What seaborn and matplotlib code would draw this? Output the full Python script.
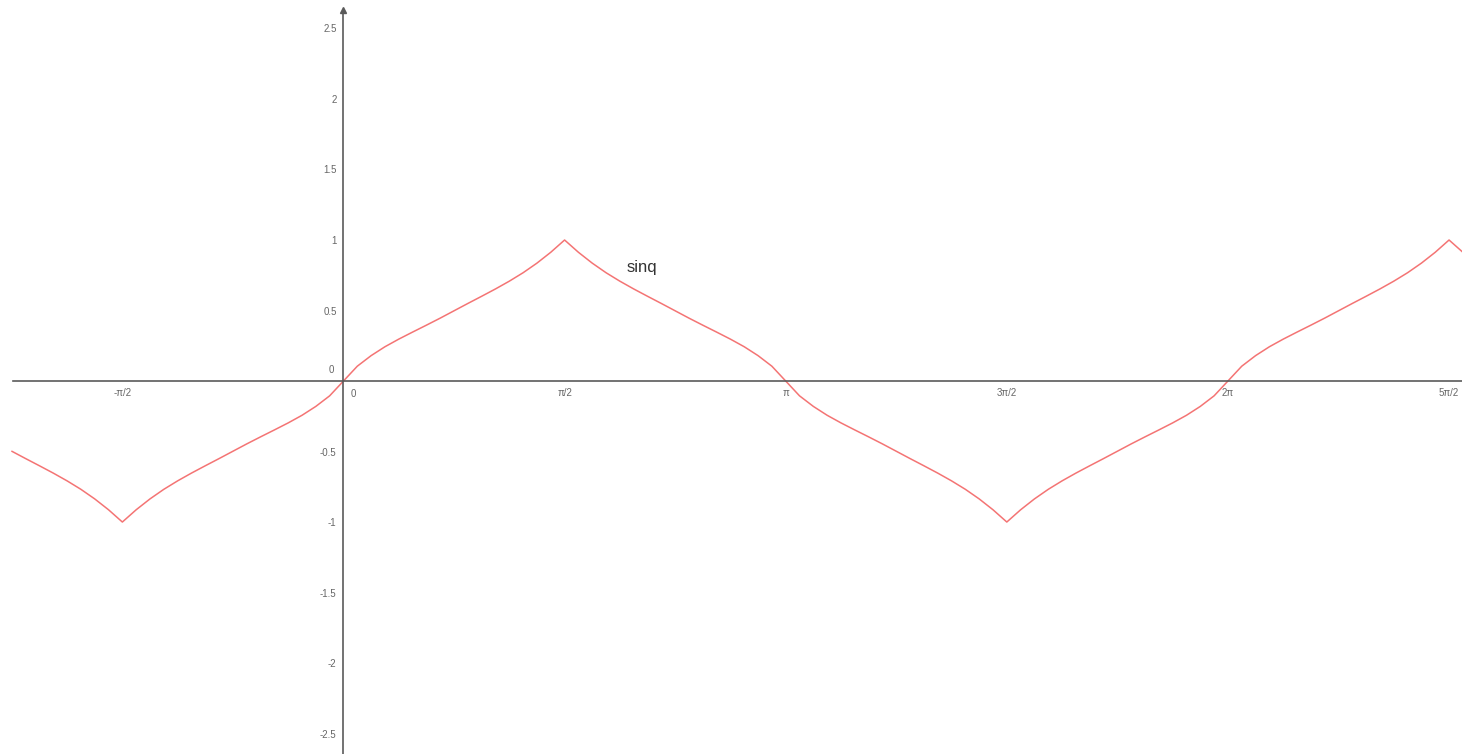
import numpy as np
import matplotlib
matplotlib.use("Agg")
import matplotlib.pyplot as plt
import seaborn as sns

# sample grid in steps of pi/32
x_steps = list(range(-24, 82))
sinq_vals = [
    -0.498, -0.550, -0.601, -0.653, -0.708, -0.768, -0.836, -0.913, -1.0,
    -0.913, -0.836, -0.768, -0.708, -0.653, -0.601, -0.550, -0.498, -0.446,
    -0.396, -0.347, -0.297, -0.243, -0.180, -0.105,
    0.0, 0.105, 0.180, 0.243, 0.297, 0.347, 0.396, 0.446, 0.498, 0.550,
    0.601, 0.653, 0.708, 0.768, 0.836, 0.913, 1.0,
    0.913, 0.836, 0.768, 0.708, 0.653, 0.601, 0.550, 0.498, 0.446, 0.396,
    0.347, 0.297, 0.243, 0.180, 0.105, 0.0,
    -0.105, -0.180, -0.243, -0.297, -0.347, -0.396, -0.446, -0.498, -0.550,
    -0.601, -0.653, -0.708, -0.768, -0.836, -0.913, -1.0,
    -0.913, -0.836, -0.768, -0.708, -0.653, -0.601, -0.550, -0.498, -0.446,
    -0.396, -0.347, -0.297, -0.243, -0.180, -0.105, 0.0,
    0.105, 0.180, 0.243, 0.297, 0.347, 0.396, 0.446, 0.498, 0.550, 0.601,
    0.653, 0.708, 0.768, 0.836, 0.913, 1.0,
    0.913,
]
x_vals = np.array(x_steps) * np.pi / 32

xtick_vals = [-np.pi / 2, np.pi / 2, np.pi, 3 * np.pi / 2, 2 * np.pi, 5 * np.pi / 2]
xtick_labels = ["-π/2", "π/2", "π", "3π/2", "2π", "5π/2"]
ytick_vals = [-2.5, -2, -1.5, -1, -0.5, 0.5, 1, 1.5, 2, 2.5]
ytick_labels = ["-2.5", "-2", "-1.5", "-1", "-0.5", "0.5", "1", "1.5", "2", "2.5"]

sns.set_style("white")
plt.rcParams["font.family"] = ["Liberation Sans", "DejaVu Sans"]

axis_col = "#5a5a5a"
label_col = "#666666"
curve_col = "#f47474"

fig = plt.figure(figsize=(14.62, 7.54), dpi=100)
ax = fig.add_axes([0, 0, 1, 1])

sns.lineplot(x=x_vals, y=sinq_vals, ax=ax, color=curve_col, linewidth=1.1, sort=False)

ax.set_xlim(-2.440, 7.946)
ax.set_ylim(-2.645, 2.702)

# axes through the origin
for side in ["top", "right"]:
    ax.spines[side].set_visible(False)
ax.spines["left"].set_position(("data", 0))
ax.spines["bottom"].set_position(("data", 0))
for side in ["left", "bottom"]:
    ax.spines[side].set_color(axis_col)
    ax.spines[side].set_linewidth(1.2)
ax.spines["bottom"].set_bounds(-2.35, 7.946)
ax.spines["left"].set_bounds(-2.645, 2.62)
ax.plot([0], [2.63], marker="^", ms=5, color=axis_col, clip_on=False)

ax.set_xticks(xtick_vals)
ax.set_xticklabels(xtick_labels)
ax.set_yticks(ytick_vals)
ax.set_yticklabels(ytick_labels)
ax.tick_params(axis="both", direction="inout", length=4, width=1, color=axis_col,
               labelsize=7, labelcolor=label_col, pad=3)

# origin labels
ax.annotate("0", (0, 0), xytext=(-9, 4), textcoords="offset points",
            fontsize=7, color=label_col, ha="center", va="bottom")
ax.annotate("0", (0, 0), xytext=(7, -6), textcoords="offset points",
            fontsize=7, color=label_col, ha="center", va="top")

ax.text(2.014, 0.775, "sinq", fontsize=12, color="#333333", va="baseline")

ax.set_xlabel("")
ax.set_ylabel("")
ax.grid(False)

fig.savefig("out.png", dpi=100)
